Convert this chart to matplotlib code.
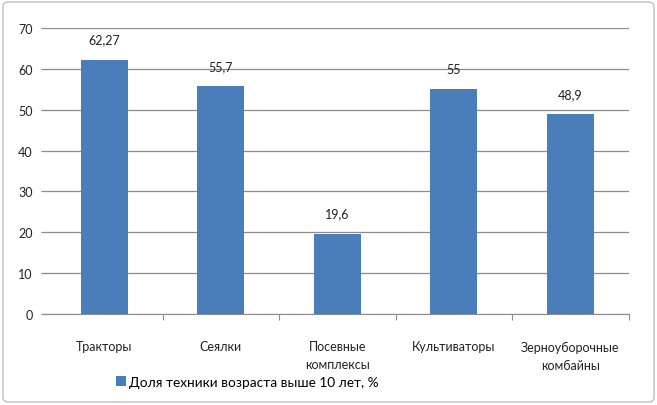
import matplotlib.pyplot as plt
from matplotlib.patches import FancyBboxPatch

categories = ["Тракторы", "Сеялки", "Посевные\nкомплексы", "Культиваторы", "Зерноуборочные\nкомбайны"]
values = [62.27, 55.7, 19.6, 55, 48.9]
value_labels = ["62,27", "55,7", "19,6", "55", "48,9"]
series_name = "Доля техники возраста выше 10 лет, %"

plt.rcParams['font.family'] = ['Lato', 'DejaVu Sans']

fig = plt.figure(figsize=(6.57, 4.06), dpi=100)
ax = fig.add_axes([46 / 657, 1 - 315 / 406, 582.5 / 657, 286 / 406])

# рамка вокруг всей диаграммы
fig.patches.append(FancyBboxPatch((3 / 657, 3 / 406), 651 / 657, 400 / 406,
                                  boxstyle="round,pad=0,rounding_size=0.01",
                                  transform=fig.transFigure, fill=False,
                                  edgecolor="#bfbfbf", linewidth=1))

x = list(range(len(categories)))
bars = ax.bar(x, values, width=0.40, color="#4a7ebb", label=series_name, zorder=3)

for xi, v, lab in zip(x, values, value_labels):
    ax.text(xi, v + 3.5, lab, ha="center", va="bottom", fontsize=9, color="#222222")

ax.set_xlim(-0.5, len(categories) - 0.5)
ax.set_ylim(0, 70)
ax.set_yticks(range(0, 71, 10))
ax.yaxis.grid(True, color="#8c8c8c", linewidth=0.9)
ax.set_axisbelow(True)
ax.tick_params(axis="y", length=3.6, width=0.9, color="#8c8c8c", labelsize=9,
               pad=6, labelcolor="#222222")

ax.set_xticks([i + 0.5 for i in range(len(categories))], minor=False)
ax.set_xticklabels([])
ax.set_xticks(x, minor=True)
ax.set_xticklabels(categories, minor=True, fontsize=9, color="#222222", linespacing=1.6)
ax.tick_params(axis="x", which="major", length=4, color="#8c8c8c")
ax.tick_params(axis="x", which="minor", length=0, pad=19)

for s in ["top", "right", "left"]:
    ax.spines[s].set_visible(False)
ax.spines["bottom"].set_color("#8c8c8c")

fig.legend(handles=[bars], labels=[series_name], loc="center left",
           bbox_to_anchor=(104 / 657, 1 - 383 / 406), frameon=False,
           fontsize=9.8, handlelength=0.7, handleheight=0.7, handletextpad=0.25)

fig.savefig("out.png", dpi=100)
